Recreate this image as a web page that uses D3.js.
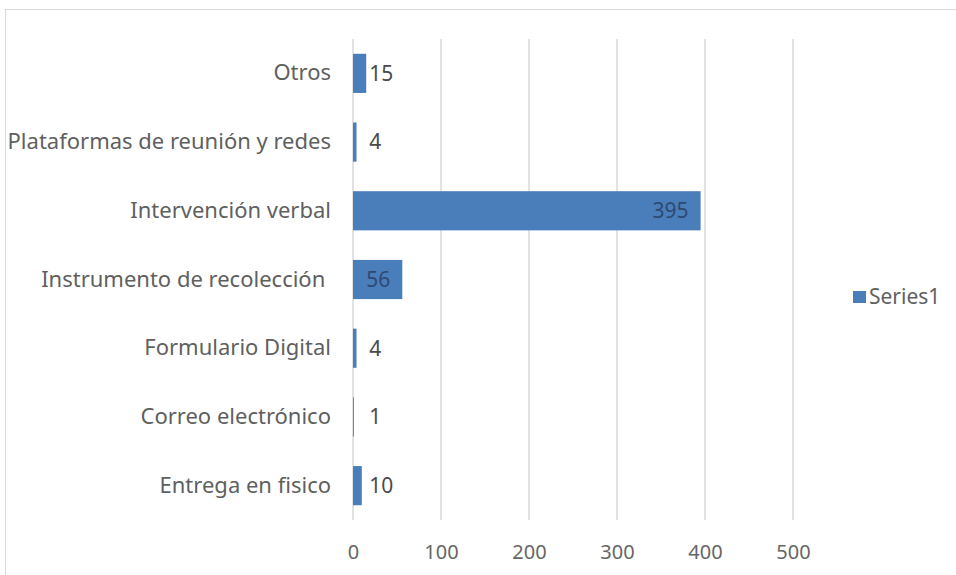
<!DOCTYPE html>
<html>
<head>
<meta charset="utf-8">
<script src="https://cdn.jsdelivr.net/npm/d3@7"></script>
<style>
  body { margin: 0; background: #fff; }
  text { font-family: "Noto Sans", sans-serif; white-space: pre; }
</style>
</head>
<body>
<svg id="chart" width="956" height="575"></svg>
<script>
const categories = [
  "Otros",
  "Plataformas de reunión y redes",
  "Intervención verbal",
  "Instrumento de recolección ",
  "Formulario Digital",
  "Correo electrónico",
  "Entrega en fisico"
];
const values = [15, 4, 395, 56, 4, 1, 10];
const ticks = [0, 100, 200, 300, 400, 500];
const seriesName = "Series1";

const svg = d3.select("#chart");
const W = 956, H = 575;
const plotLeft = 353, plotRight = 793, plotTop = 39, plotBottom = 520;
const fs = "21px";

// chart frame
svg.append("rect")
  .attr("x", 5.5).attr("y", 9.5)
  .attr("width", W + 20).attr("height", H + 20)
  .attr("fill", "#fff").attr("stroke", "#d9d9d9");

const x = d3.scaleLinear().domain([0, 500]).range([plotLeft, plotRight]);
const y = d3.scaleBand().domain(categories).range([plotTop, plotBottom])
  .paddingInner(0.43).paddingOuter(0.215);

// gridlines
svg.append("g")
  .selectAll("line")
  .data(ticks)
  .join("line")
  .attr("x1", d => x(d)).attr("x2", d => x(d))
  .attr("y1", plotTop).attr("y2", plotBottom)
  .attr("stroke", "#d9d9d9").attr("stroke-width", 1.5);

// x axis labels
const xAxis = d3.axisBottom(x).tickValues(ticks).tickSize(0).tickPadding(0);
svg.append("g")
  .attr("transform", `translate(0,${plotBottom})`)
  .call(xAxis)
  .call(g => g.select(".domain").remove())
  .selectAll("text")
  .attr("y", 39)
  .attr("dy", 0)
  .attr("fill", "#666")
  .style("font-size", "20px");

// y axis labels
const yAxis = d3.axisLeft(y).tickSize(0).tickPadding(0);
svg.append("g")
  .attr("transform", `translate(331,0)`)
  .call(yAxis)
  .call(g => g.select(".domain").remove())
  .selectAll("text")
  .attr("fill", "#5f5f5f")
  .style("font-size", "22px");

const rows = categories.map((c, i) => ({ c, v: values[i] }));

// bars
svg.append("g")
  .selectAll("rect")
  .data(rows)
  .join("rect")
  .attr("x", x(0))
  .attr("y", d => y(d.c))
  .attr("width", d => x(d.v) - x(0))
  .attr("height", y.bandwidth())
  .attr("fill", "#4a7ebb");

// value labels
svg.append("g")
  .selectAll("text")
  .data(rows)
  .join("text")
  .attr("x", d => d.v > 50 ? x(d.v) - 12 : x(Math.max(d.v, 15)) + 3)
  .attr("y", d => y(d.c) + y.bandwidth() / 2)
  .attr("dy", "0.35em")
  .attr("text-anchor", d => d.v > 50 ? "end" : "start")
  .attr("fill", d => d.v > 50 ? "#2e4a72" : "#4a4a4a")
  .style("font-size", fs)
  .text(d => d.v);

// legend
const lg = svg.append("g").attr("transform", "translate(853,291)");
lg.append("rect").attr("width", 13).attr("height", 12).attr("fill", "#4a7ebb");
lg.append("text").attr("x", 16).attr("y", 6).attr("dy", "0.35em")
  .attr("fill", "#5f5f5f").style("font-size", fs).text(seriesName);
</script>
</body>
</html>
